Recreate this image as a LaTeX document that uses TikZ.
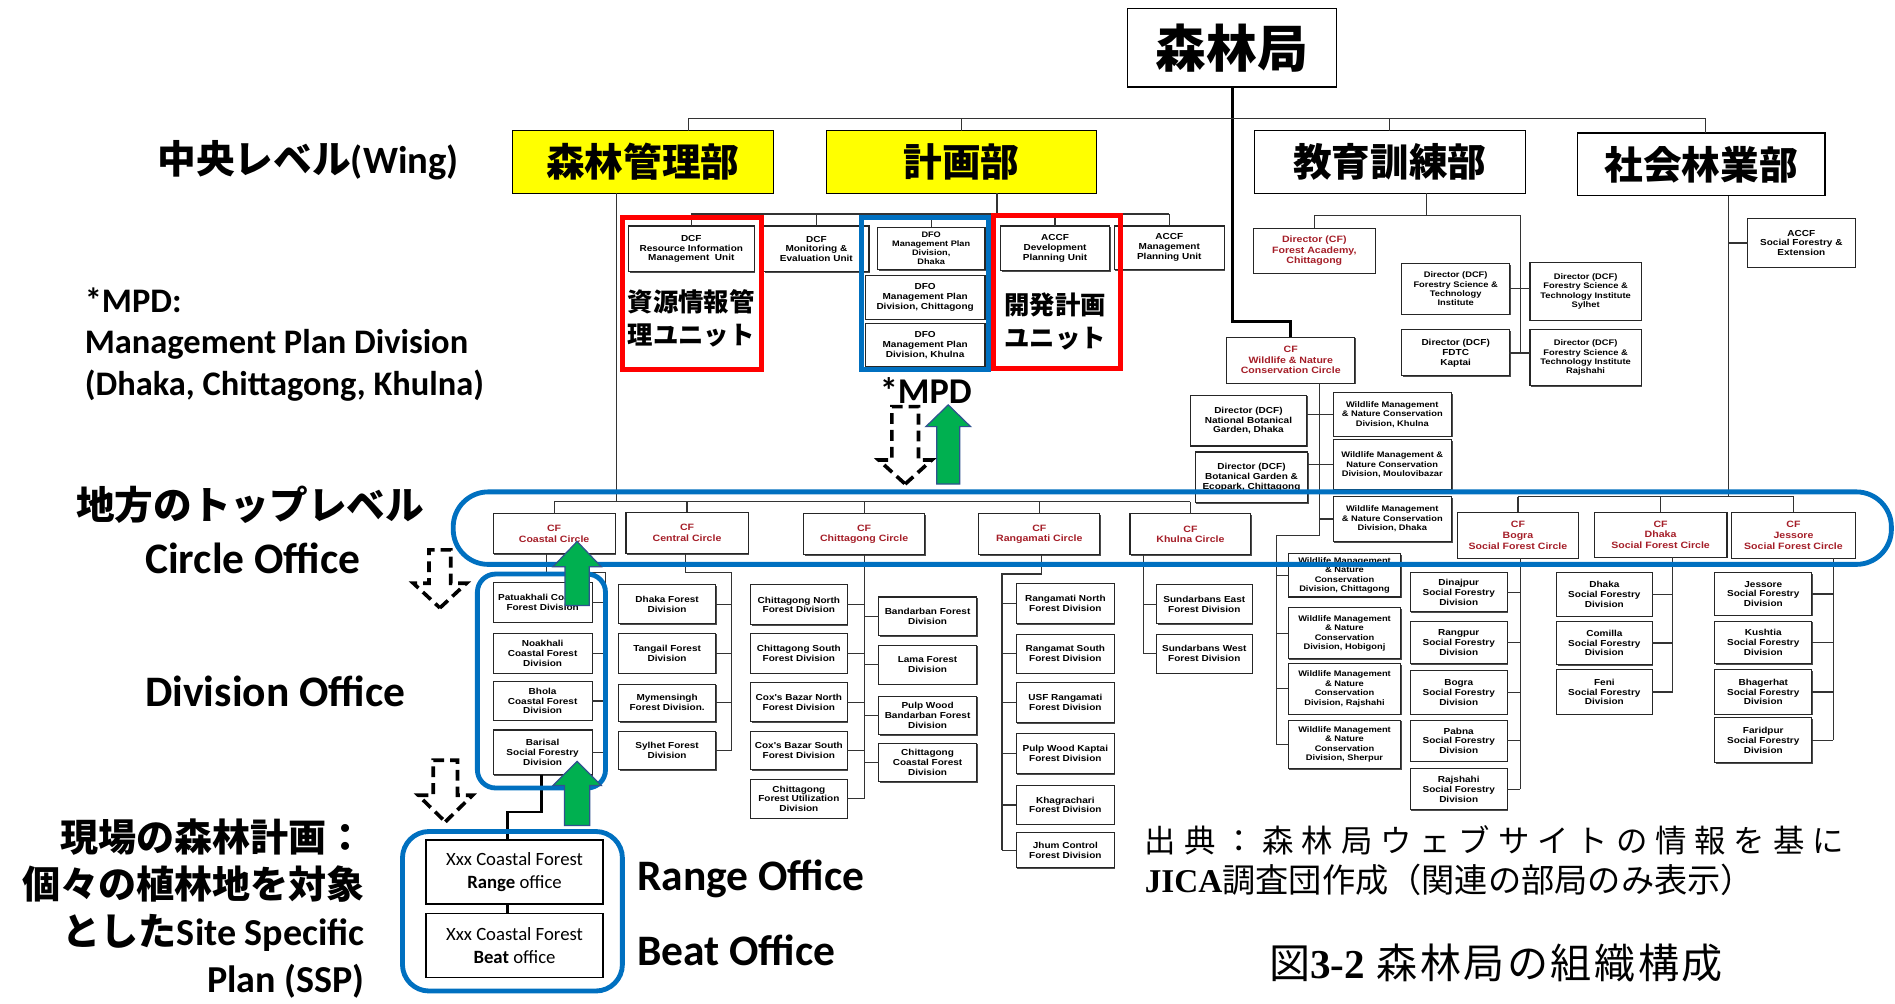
\documentclass[tikz,border=0pt]{standalone}
\usepackage{fontspec}
\setmainfont{Liberation Sans}
\newfontfamily\jp{Noto Sans CJK JP}
\newfontfamily\jpsp{Noto Sans CJK JP}[LetterSpace=25]
\newfontfamily\jpcap{Noto Sans CJK JP}[LetterSpace=6]
\newfontfamily\cb{Carlito}
\newfontfamily\ser{Liberation Serif}
\newfontfamily\sm{Liberation Sans}[FakeStretch=1.15]
\usetikzlibrary{shadows}
\definecolor{dred}{RGB}{165,30,40}
\definecolor{ured}{RGB}{255,0,0}
\definecolor{ublue}{RGB}{0,112,192}
\definecolor{ugreen}{RGB}{0,176,80}
\definecolor{uedge}{RGB}{47,82,143}
\definecolor{uyellow}{RGB}{255,255,0}
\newcommand\mybox[7]{\node[#2,minimum width={#5-#3},minimum height={#6-#4}] (#1) at ({(#3+#5)/2},{(#4+#6)/2}) {#7};}
\newcommand\uparr[7]{\draw[#1] (#2,#3) -- ({#2+#4},#5) -- ({#2+#6},#5) -- ({#2+#6},#7) -- ({#2-#6},#7) -- ({#2-#6},#5) -- ({#2-#4},#5) -- cycle;}
\begin{document}
\begin{tikzpicture}[x=1pt,y=-1pt,
  org/.style={draw=black!85,line width=0.9,fill=white,inner sep=0pt,outer sep=0pt,align=center,
    font=\sm\bfseries\fontsize{7.2}{8.2}\selectfont,
    drop shadow={shadow xshift=0.9pt,shadow yshift=-0.9pt,fill=black!70,opacity=1}},
  orgr/.style={org,text=dred,font=\sm\bfseries\fontsize{7.6}{8.8}\selectfont},
  orgs/.style={org,font=\sm\bfseries\fontsize{6.6}{7.4}\selectfont},
  orgw/.style={org,font=\sm\bfseries\fontsize{6.7}{7.8}\selectfont},
  wing/.style={draw=black,line width=1,inner sep=0pt,outer sep=0pt,font=\jp\bfseries\fontsize{32}{36}\selectfont},
  topbox/.style={draw=black,line width=1.2,fill=white,inner sep=0pt,outer sep=0pt,font=\jp\bfseries\fontsize{42}{46}\selectfont},
  rbox/.style={draw=black,line width=1,fill=white,inner sep=0pt,outer sep=0pt,align=center,font=\cb\fontsize{15.5}{19}\selectfont},
  tl/.style={draw=black!80,line width=1},
  thk/.style={draw=black,line width=2.4},
  blk/.style={draw=black,line width=2},
  redr/.style={draw=ured,line width=4},
  bluer/.style={draw=ublue,line width=4},
  garr/.style={fill=ugreen,draw=uedge,line width=1},
  darr/.style={fill=white,draw=black,line width=3,dash pattern=on 9pt off 5pt},
  lab/.style={inner sep=0pt,font=\cb\bfseries\fontsize{36}{40}\selectfont},
  jlab/.style={inner sep=0pt,font=\cb\bfseries\fontsize{31.5}{39}\selectfont},
  redtxt/.style={inner sep=0pt,align=center,font=\jp\bfseries\fontsize{21}{27}\selectfont}
]
\useasboundingbox (0,0) rectangle (1568,830);
\fill[white] (0,0) rectangle (1568,830);

% ---------- top and wings
\mybox{top}{topbox}{933}{7}{1106}{72}{森林局}
\mybox{w1}{wing,fill=uyellow}{424}{108}{640}{160}{森林管理部}
\mybox{w2}{wing,fill=uyellow}{684}{108}{907}{160}{計画部}
\mybox{w3}{wing,fill=white}{1038}{108}{1262}{160}{教育訓練部}
\mybox{w4}{wing,fill=white}{1305}{110}{1510}{162}{社会林業部}

% ---------- planning sub-units
\mybox{u1}{org}{520}{187}{624}{225}{DCF\\Resource Information\\Management\ \ Unit}
\mybox{u2}{org}{632}{187}{719}{225}{DCF\\Monitoring \&\\Evaluation Unit}
\mybox{u3}{orgs}{726}{188}{815}{223}{DFO\\Management Plan\\Division,\\Dhaka}
\mybox{u4}{org}{716}{228}{815}{264}{DFO\\Management Plan\\Division, Chittagong}
\mybox{u5}{org}{716}{268}{815}{303}{DFO\\Management Plan\\Division, Khulna}
\mybox{u6}{org}{828}{187}{918}{224}{ACCF\\Development\\Planning Unit}
\mybox{u7}{org}{922}{187}{1013}{223}{ACCF\\Management\\Planning Unit}

% ---------- education
\mybox{e1}{orgr}{1037}{189}{1138}{226}{Director (CF)\\Forest Academy,\\Chittagong}
\mybox{e2}{orgw}{1160}{218}{1249}{260}{Director (DCF)\\Forestry Science \&\\Technology\\Institute}
\mybox{e3}{orgw}{1266}{217}{1358}{265}{Director (DCF)\\Forestry Science \&\\Technology Institute\\Sylhet}
\mybox{e4}{org}{1160}{273}{1249}{311}{Director (DCF)\\FDTC\\Kaptai}
\mybox{e5}{orgw}{1266}{273}{1358}{319}{Director (DCF)\\Forestry Science \&\\Technology Institute\\Rajshahi}
\mybox{s0}{org}{1446}{181}{1535}{221}{ACCF\\Social Forestry \&\\Extension}

% ---------- wildlife
\mybox{wc}{orgr}{1015}{279}{1121}{317}{CF\\Wildlife \& Nature\\Conservation Circle}
\mybox{wl1}{org}{985}{327}{1081}{369}{Director (DCF)\\National Botanical\\Garden, Dhaka}
\mybox{wr1}{orgw}{1103}{325}{1201}{361}{Wildlife Management\\\& Nature Conservation\\Division, Khulna}
\mybox{wl2}{org}{989}{374}{1082}{416}{Director (DCF)\\Botanical Garden \&\\Ecopark, Chittagong}
\mybox{wr2}{orgw}{1103}{364}{1201}{405}{Wildlife Management \&\\Nature Conservation\\Division, Moulovibazar}
\mybox{wr3}{orgw}{1103}{411}{1201}{448}{Wildlife Management\\\& Nature Conservation\\Division, Dhaka}
\mybox{ww1}{orgw}{1066}{458}{1159}{494}{Wildlife Management\\\& Nature\\Conservation\\Division, Chittagong}
\mybox{ww2}{orgw}{1066}{503}{1159}{545}{Wildlife Management\\\& Nature\\Conservation\\Division, Hobigonj}
\mybox{ww3}{orgw}{1066}{549}{1159}{591}{Wildlife Management\\\& Nature\\Conservation\\Division, Rajshahi}
\mybox{ww4}{orgw}{1066}{596}{1159}{636}{Wildlife Management\\\& Nature\\Conservation\\Division, Sherpur}

% ---------- circles
\mybox{c1}{orgr}{408}{425}{509}{458}{CF\\Coastal Circle}
\mybox{c2}{orgr}{518}{424}{619}{458}{CF\\Central Circle}
\mybox{c3}{orgr}{665}{425}{765}{459}{CF\\Chittagong Circle}
\mybox{c4}{orgr}{810}{425}{910}{459}{CF\\Rangamati Circle}
\mybox{c5}{orgr}{935}{425}{1035}{459}{CF\\Khulna Circle}
\mybox{c6}{orgr}{1206}{424}{1306}{462}{CF\\Bogra\\Social Forest Circle}
\mybox{c7}{orgr}{1319}{424}{1429}{461}{CF\\Dhaka\\Social Forest Circle}
\mybox{c8}{orgr}{1433}{424}{1535}{462}{CF\\Jessore\\Social Forest Circle}

% ---------- divisions
\mybox{d11}{org}{408}{482}{490}{515}{Patuakhali Coastal\\Forest Division}
\mybox{d12}{org}{408}{524}{490}{557}{Noakhali\\Coastal Forest\\Division}
\mybox{d13}{org}{408}{564}{490}{596}{Bhola\\Coastal Forest\\Division}
\mybox{d14}{org}{408}{604}{490}{641}{Barisal\\Social Forestry\\Division}
\mybox{d21}{org}{512}{484}{592}{516}{Dhaka Forest\\Division}
\mybox{d22}{org}{512}{524}{592}{557}{Tangail Forest\\Division}
\mybox{d23}{org}{512}{566}{592}{597}{Mymensingh\\Forest Division.}
\mybox{d24}{org}{512}{605}{592}{637}{Sylhet Forest\\Division}
\mybox{d31}{org}{621}{484}{701}{517}{Chittagong North\\Forest Division}
\mybox{d32}{org}{621}{524}{701}{557}{Chittagong South\\Forest Division}
\mybox{d33}{org}{621}{565}{701}{597}{Cox's Bazar North\\Forest Division}
\mybox{d34}{org}{621}{605}{701}{637}{Cox's Bazar South\\Forest Division}
\mybox{d35}{org}{621}{645}{701}{677}{Chittagong\\Forest Utilization\\Division}
\mybox{d36}{org}{727}{494}{808}{526}{Bandarban Forest\\Division}
\mybox{d37}{org}{727}{534}{808}{566}{Lama Forest\\Division}
\mybox{d38}{org}{727}{576}{808}{608}{Pulp Wood\\Bandarban Forest\\Division}
\mybox{d39}{org}{727}{615}{808}{647}{Chittagong\\Coastal Forest\\Division}
\mybox{d41}{org}{841}{483}{922}{516}{Rangamati North\\Forest Division}
\mybox{d42}{org}{841}{525}{922}{557}{Rangamat South\\Forest Division}
\mybox{d43}{org}{841}{565}{922}{598}{USF Rangamati\\Forest Division}
\mybox{d44}{org}{841}{607}{922}{640}{Pulp Wood Kaptai\\Forest Division}
\mybox{d45}{org}{841}{650}{922}{682}{Khagrachari\\Forest Division}
\mybox{d46}{org}{841}{689}{922}{718}{Jhum Control\\Forest Division}
\mybox{d51}{org}{957}{484}{1036}{516}{Sundarbans East\\Forest Division}
\mybox{d52}{org}{957}{525}{1036}{557}{Sundarbans West\\Forest Division}
\mybox{d61}{org}{1167}{474}{1247}{506}{Dinajpur\\Social Forestry\\Division}
\mybox{d62}{org}{1167}{514}{1247}{549}{Rangpur\\Social Forestry\\Division}
\mybox{d63}{org}{1167}{555}{1247}{591}{Bogra\\Social Forestry\\Division}
\mybox{d64}{org}{1167}{596}{1247}{630}{Pabna\\Social Forestry\\Division}
\mybox{d65}{org}{1167}{636}{1247}{670}{Rajshahi\\Social Forestry\\Division}
\mybox{d71}{org}{1288}{474}{1367}{510}{Dhaka\\Social Forestry\\Division}
\mybox{d72}{org}{1288}{514}{1367}{550}{Comilla\\Social Forestry\\Division}
\mybox{d73}{org}{1288}{554}{1367}{591}{Feni\\Social Forestry\\Division}
\mybox{d81}{org}{1419}{474}{1499}{509}{Jessore\\Social Forestry\\Division}
\mybox{d82}{org}{1419}{514}{1499}{549}{Kushtia\\Social Forestry\\Division}
\mybox{d83}{org}{1419}{554}{1499}{591}{Bhagerhat\\Social Forestry\\Division}
\mybox{d84}{org}{1419}{594}{1499}{631}{Faridpur\\Social Forestry\\Division}

% ---------- range / beat
\mybox{r1}{rbox}{352.5}{695}{499}{748}{Xxx Coastal Forest\\{\bfseries Range} office}
\mybox{r2}{rbox}{352.5}{756}{499}{808.6}{Xxx Coastal Forest\\{\bfseries Beat} office}

% ---------- connectors
\draw[thk] (top.south) -- ++(0,194) -| (wc.north);
\coordinate (wbL) at (570,98); \coordinate (wbR) at (1411,98);
\draw[tl] (wbL |- w1.north) -- (wbL) -- (wbR) -- (wbR |- w4.north);
\draw[tl] (w2.north) -- (w2.north |- wbL);
\draw[tl] (w3.north) -- (w3.north |- wbL);
% planning bus
\coordinate (pbus) at (825,177);
\draw[tl] (w2.south -| pbus) -- (pbus);
\draw[tl] (u1.north |- pbus) -- (u7.north |- pbus);
\foreach \n in {u1,u2,u3,u6,u7} \draw[tl] (\n.north) -- (\n.north |- pbus);
% management wing to circles
\coordinate (cbus) at (510,415);
\draw[tl] (cbus |- w1.south) -- (cbus);
\draw[tl] (c1.north |- cbus) -- (c5.north |- cbus);
\foreach \n in {c1,c2,c3,c4,c5} \draw[tl] (\n.north) -- (\n.north |- cbus);
% education
\coordinate (ebus) at (1180,178); \coordinate (ev) at (1258,178);
\draw[tl] (w3.south -| ebus) -- (ebus);
\draw[tl] (e1.north) -- (e1.north |- ebus) -- (ev) -- (ev |- e4.east);
\draw[tl] (e2.east) -- (e2.east -| e3.west);
\draw[tl] (e4.east) -- (e4.east -| e5.west);
% social
\coordinate (sv) at (1430,411);
\draw[tl] (sv |- w4.south) -- (sv);
\draw[tl] (sv |- s0.west) -- (s0.west);
\draw[tl] (c6.north |- sv) -- (c8.north |- sv);
\foreach \n in {c6,c7,c8} \draw[tl] (\n.north) -- (\n.north |- sv);
% wildlife
\coordinate (wv1) at (1092,443); \coordinate (wv2) at (1056,443);
\draw[tl] (wc.south -| wv1) -- (wv1) -- (wv2) -- (wv2 |- ww4.west);
\draw[tl] (wl1.east |- wr1.west) -- (wr1.west);
\draw[tl] (wl2.east |- wr2.west) -- (wr2.west);
\draw[tl] (wv1 |- wr3.west) -- (wr3.west);
\foreach \n in {ww1,ww2,ww3,ww4} \draw[tl] (wv2 |- \n.west) -- (\n.west);
% coastal
\coordinate (k1a) at (452,474); \coordinate (k1b) at (501,474);
\draw[tl] (c1.south -| k1a) -- (k1a) -- (k1b) -- (k1b |- d14.east);
\foreach \n in {d11,d12,d13,d14} \draw[tl] (\n.east) -- (\n.east -| k1b);
% central
\coordinate (k2a) at (567,474); \coordinate (k2b) at (605,474);
\draw[tl] (c2.south -| k2a) -- (k2a) -- (k2b) -- (k2b |- d24.east);
\foreach \n in {d21,d22,d23,d24} \draw[tl] (\n.east) -- (\n.east -| k2b);
% chittagong
\draw[tl] (c3.south) -- (c3.south |- d35.east);
\foreach \n in {d31,d32,d33,d34,d35} \draw[tl] (\n.east) -- (\n.east -| c3.south);
\foreach \n in {d36,d37,d38,d39} \draw[tl] (\n.west) -- (\n.west -| c3.south);
% rangamati
\coordinate (k4a) at (862,475); \coordinate (k4b) at (829,475);
\draw[tl] (c4.south -| k4a) -- (k4a) -- (k4b) -- (k4b |- d46.west);
\foreach \n in {d41,d42,d43,d44,d45,d46} \draw[tl] (\n.west) -- (\n.west -| k4b);
% khulna
\coordinate (k5) at (946,459);
\draw[tl] (c5.south -| k5) -- (k5 |- d52.west);
\foreach \n in {d51,d52} \draw[tl] (\n.west) -- (\n.west -| k5);
% social circles
\coordinate (k6) at (1258,462); \coordinate (k7) at (1384,461); \coordinate (k8) at (1517,462);
\draw[tl] (c6.south -| k6) -- (k6 |- d65.east);
\foreach \n in {d61,d62,d63,d64,d65} \draw[tl] (\n.east) -- (\n.east -| k6);
\draw[tl] (c7.south -| k7) -- (k7 |- d73.east);
\foreach \n in {d71,d72,d73} \draw[tl] (\n.east) -- (\n.east -| k7);
\draw[tl] (c8.south -| k8) -- (k8 |- d84.east);
\foreach \n in {d81,d82,d83,d84} \draw[tl] (\n.east) -- (\n.east -| k8);
% range / beat
\coordinate (rk1) at (448,672); \coordinate (rk2) at (420,672);
\draw[blk] (d14.south -| rk1) -- (rk1) -- (rk2) -- (rk2 |- r1.north);
\draw[blk] (rk2 |- r1.south) -- (rk2 |- r2.north);

% ---------- highlight frames
\draw[redr] (515,180) rectangle (630,306);
\draw[redr] (822,178) rectangle (927,305);
\draw[bluer] (713,180) rectangle (818,306);
\draw[bluer,rounded corners=29] (375,407) rectangle (1565,467);
\draw[bluer,rounded corners=15] (395,475) rectangle (501,652);
\draw[bluer,rounded corners=22] (333,688) rectangle (515,820);

\node[redtxt] (t1) at (572,263.5) {資源情報管\\理ユニット};
\node[redtxt] (t2) at (873,266) {開発計画\\ユニット};
\node[inner sep=0pt,font=\cb\bfseries\fontsize{30}{32}\selectfont] (mpd) at (766,323) {*MPD};

% ---------- arrows
\uparr{garr}{784.6}{335}{18.5}{353}{9.5}{400.5}
\uparr{garr}{477.5}{448}{20}{469}{10}{501}
\uparr{garr}{477.5}{630}{20}{650}{10.5}{683}
\uparr{darr}{749}{400.5}{22}{380.6}{11}{336.5}
\uparr{darr}{364}{503}{22}{482.6}{9}{455}
\uparr{darr}{368.5}{680}{22.5}{658}{10}{629}

% ---------- labels
\node[inner sep=0pt,font=\cb\bfseries\fontsize{32}{34}\selectfont] (lw) at (255,133) {{\jp 中央レベル}(Wing)};
\node[inner sep=0pt,anchor=west,align=left,font=\cb\bfseries\fontsize{28.5}{34.5}\selectfont] (lm) at (70,285) {*MPD:\\Management Plan Division\\(Dhaka, Chittagong, Khulna)};
\node[inner sep=0pt,font=\jp\bfseries\fontsize{32}{34}\selectfont] (lt) at (207,418) {地方のトップレベル};
\node[lab,anchor=west] (lc) at (120,462) {Circle Office};
\node[lab,anchor=west] (ld) at (120,572) {Division Office};
\node[jlab,anchor=east,align=right] (ls) at (302,752) {{\jp 現場の森林計画：}\\{\jp 個々の植林地を対象}\\{\jp とした}Site Specific\\Plan (SSP)};
\node[lab,anchor=west] (lr) at (527,727) {Range Office};
\node[lab,anchor=west] (lb) at (527,786) {Beat Office};
\node[inner sep=0pt,anchor=west,font=\jpsp\fontsize{26}{30}\selectfont] (src1) at (947,695) {出典：森林局ウェブサイトの情報を基に};
\node[inner sep=0pt,anchor=west,font=\jp\fontsize{27.5}{30}\selectfont] (src2) at (947,728) {{\ser\bfseries JICA}調査団作成（関連の部局のみ表示）};
\node[inner sep=0pt,anchor=west,font=\jpcap\fontsize{34}{38}\selectfont] (cap) at (1050,797) {図{\ser\bfseries 3-2} 森林局の組織構成};
\end{tikzpicture}
\end{document}
